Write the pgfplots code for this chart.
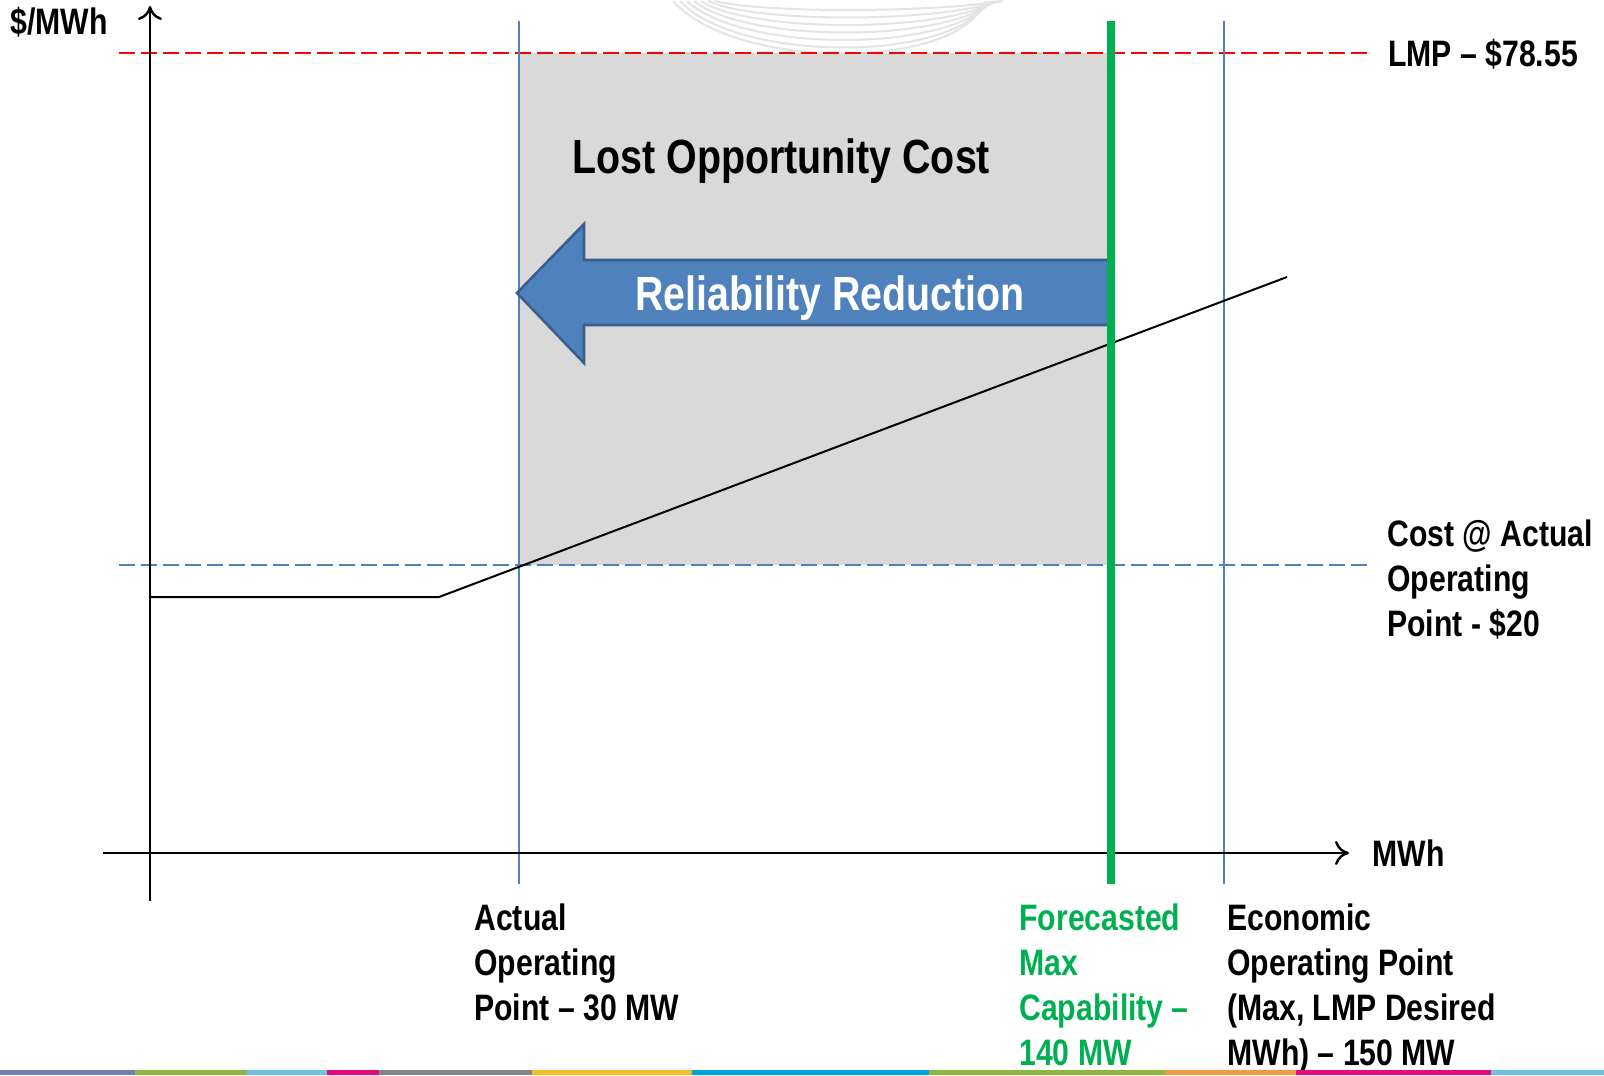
\documentclass[border=0pt]{standalone}
\usepackage{pgfplots}
\pgfplotsset{compat=1.18}
\usetikzlibrary{arrows.meta}
\usepackage{fontspec}
\setmainfont{Liberation Sans}[FakeStretch=0.82]
\definecolor{gfill}{HTML}{D9D9D9}
\definecolor{bline}{HTML}{4F81BD}
\definecolor{gline}{HTML}{00B050}
\definecolor{aborder}{HTML}{3A5F8C}
\definecolor{wm}{HTML}{E4E4E4}
\definecolor{c1}{HTML}{6F7FB5}
\definecolor{c2}{HTML}{8DB83F}
\definecolor{c3}{HTML}{6EC1E4}
\definecolor{c4}{HTML}{E5097F}
\definecolor{c5}{HTML}{7F878A}
\definecolor{c6}{HTML}{F4BE2A}
\definecolor{c7}{HTML}{00A3E0}
\definecolor{c8}{HTML}{EE9A4A}
\tikzset{lab/.style={anchor=base west, inner sep=0pt, font=\fontsize{18.4}{22}\selectfont\bfseries},
         big/.style={inner sep=0pt, font=\fontsize{24}{28}\selectfont\bfseries}}
\begin{document}
\begin{tikzpicture}
\begin{axis}[width=802pt, height=537pt, scale only axis,
  xmin=0, xmax=1604, ymin=0, ymax=1074, y dir=reverse,
  hide axis, clip=false]
% bounding box
\path (axis cs:0,0) rectangle (axis cs:1604,1074);
% watermark arcs
\draw[wm, line width=1pt] (axis cs:715,0) .. controls (axis cs:760,12) and (axis cs:930,12) .. (axis cs:1003,0);
\draw[wm, line width=1pt] (axis cs:708,0) .. controls (axis cs:755,22) and (axis cs:935,22) .. (axis cs:1000,0);
\draw[wm, line width=1pt] (axis cs:701,0) .. controls (axis cs:750,32) and (axis cs:940,32) .. (axis cs:997,0);
\draw[wm, line width=1pt] (axis cs:694,0) .. controls (axis cs:746,42) and (axis cs:945,42) .. (axis cs:994,0);
\draw[wm, line width=1pt] (axis cs:687,0) .. controls (axis cs:742,52) and (axis cs:950,52) .. (axis cs:991,0);
\draw[wm, line width=1pt] (axis cs:680,0) .. controls (axis cs:738,62) and (axis cs:955,62) .. (axis cs:988,0);
\draw[wm, line width=1pt] (axis cs:673,0) .. controls (axis cs:735,70) and (axis cs:960,70) .. (axis cs:985,0);
% lost opportunity area
\addplot[draw=none, fill=gfill] coordinates {(519,52) (1111,52) (1111,564) (519,564)} -- cycle;
% horizontal dashed lines
\addplot[red, line width=1.3pt, dash pattern=on 8pt off 3pt] coordinates {(119,52) (1368,52)};
\addplot[bline, line width=1pt, dash pattern=on 8pt off 3pt] coordinates {(119,564) (1368,564)};
% vertical lines
\addplot[bline, line width=1pt] coordinates {(519,20) (519,883)};
\addplot[bline, line width=1pt] coordinates {(1224,20) (1224,883)};
% axes
\addplot[black, line width=1.2pt, -{To[length=7pt,width=12pt]}] coordinates {(150,900) (150,5)};
\addplot[black, line width=1.2pt, -{To[length=7pt,width=12pt]}] coordinates {(103,852) (1349,852)};
% cost curve
\addplot[black, line width=1pt] coordinates {(150,596) (439,596) (1287,276)};
% reliability reduction arrow
\addplot[fill=bline, draw=aborder, line width=1.3pt, line join=miter] coordinates {(1111,259) (584,259) (584,223) (517,292) (584,362) (584,324) (1111,324)} -- cycle;
% green forecast line
\addplot[gline, line width=4pt] coordinates {(1111,20) (1111,883)};
% texts
\node[big, anchor=base west] at (axis cs:572,172) {Lost Opportunity Cost};
\node[big, anchor=base, text=white] at (axis cs:830,309) {Reliability Reduction};
\node[lab] at (axis cs:10,33) {\$/MWh};
\node[lab] at (axis cs:1372,865) {MWh};
\node[lab] at (axis cs:1388,65) {LMP – \$78.55};
\node[lab] at (axis cs:1387,545) {Cost @ Actual};
\node[lab] at (axis cs:1387,590) {Operating};
\node[lab] at (axis cs:1387,635) {Point - \$20};
\node[lab] at (axis cs:474,929) {Actual};
\node[lab] at (axis cs:474,974) {Operating};
\node[lab] at (axis cs:474,1019) {Point – 30 MW};
\node[lab, text=gline] at (axis cs:1019,929) {Forecasted};
\node[lab, text=gline] at (axis cs:1019,974) {Max};
\node[lab, text=gline] at (axis cs:1019,1019) {Capability –};
\node[lab, text=gline] at (axis cs:1019,1064) {140 MW};
\node[lab] at (axis cs:1227,929) {Economic};
\node[lab] at (axis cs:1227,974) {Operating Point};
\node[lab] at (axis cs:1227,1019) {(Max, LMP Desired};
\node[lab] at (axis cs:1227,1064) {MWh) – 150 MW};
% bottom colour bar
\fill[c1] (axis cs:0,1069) rectangle (axis cs:135,1074);
\fill[c2] (axis cs:135,1069) rectangle (axis cs:247,1074);
\fill[c3] (axis cs:247,1069) rectangle (axis cs:327,1074);
\fill[c4] (axis cs:327,1069) rectangle (axis cs:379,1074);
\fill[c5] (axis cs:379,1069) rectangle (axis cs:532,1074);
\fill[c6] (axis cs:532,1069) rectangle (axis cs:692,1074);
\fill[c7] (axis cs:692,1069) rectangle (axis cs:929,1074);
\fill[c2] (axis cs:929,1069) rectangle (axis cs:1165,1074);
\fill[c8] (axis cs:1165,1069) rectangle (axis cs:1296,1074);
\fill[c4] (axis cs:1296,1069) rectangle (axis cs:1491,1074);
\fill[c3] (axis cs:1491,1069) rectangle (axis cs:1604,1074);
\end{axis}
\end{tikzpicture}
\end{document}
